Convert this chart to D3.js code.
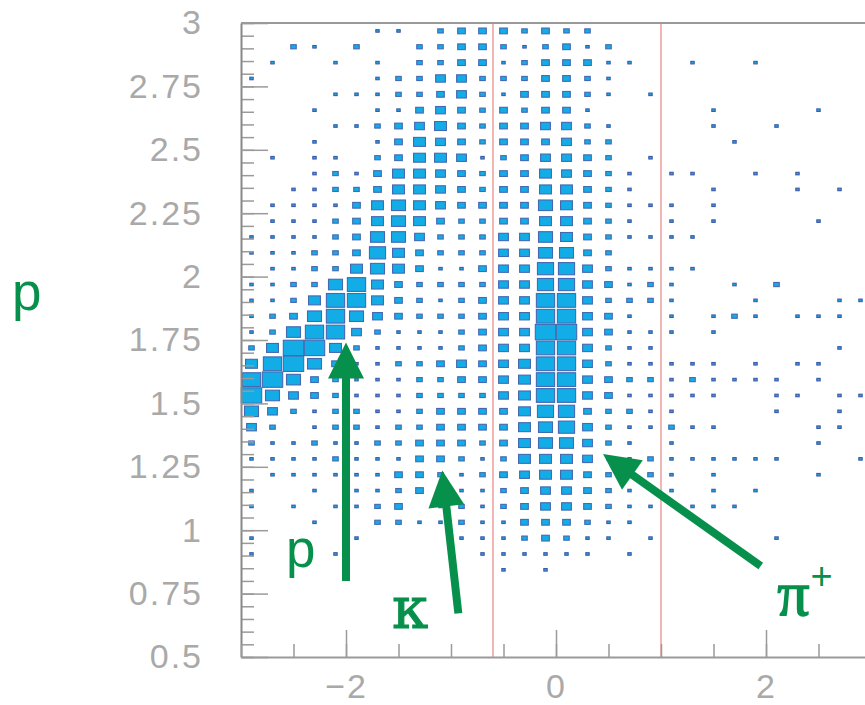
<!DOCTYPE html>
<html>
<head>
<meta charset="utf-8">
<script src="https://cdn.jsdelivr.net/npm/d3@7"></script>
<style>
  html, body { margin: 0; padding: 0; background: #ffffff; }
  svg { display: block; }
</style>
</head>
<body>
<svg id="chart" width="865" height="705"></svg>
<script>
// ---------------- DATA ----------------
// x bin centres (bin width 0.2)
const xBins = [-2.9, -2.7, -2.5, -2.3, -2.1, -1.9, -1.7, -1.5, -1.3, -1.1,
               -0.9, -0.7, -0.5, -0.3, -0.1, 0.1, 0.3, 0.5, 0.7, 0.9,
               1.1, 1.3, 1.5, 1.7, 1.9, 2.1, 2.3, 2.5, 2.7, 2.9];
// y bin centres (bin width 0.0625), top to bottom
const yBins = [2.96875, 2.90625, 2.84375, 2.78125, 2.71875, 2.65625, 2.59375, 2.53125,
               2.46875, 2.40625, 2.34375, 2.28125, 2.21875, 2.15625, 2.09375, 2.03125,
               1.96875, 1.90625, 1.84375, 1.78125, 1.71875, 1.65625, 1.59375, 1.53125,
               1.46875, 1.40625, 1.34375, 1.28125, 1.21875, 1.15625, 1.09375, 1.03125,
               0.96875, 0.90625, 0.84375, 0.78125, 0.71875, 0.65625, 0.59375, 0.53125];
// cell contents (relative, 0..9), one string per y bin, one digit per x bin
const cellRows = [
  "0000001102 3332322000 0000000000",
  "0021020022 3321231200 0000000000",
  "0100101022 3312333110 0100100000",
  "1000001224 4222332100 0000000000",
  "0000111223 4213332101 0000000000",
  "0001001134 3232331000 0010000100",
  "0000112345 3233442100 0010010000",
  "0001001354 3233342200 0001000000",
  "0101102355 4123443201 0000000000",
  "0001213554 3233543210 1100101000",
  "0011223554 3233553210 0010001010",
  "0111135654 3333653211 1010000000",
  "0111235653 2233553210 1010000100",
  "1111236642 2244653211 1100000000",
  "1112237532 2244663200 0000000000",
  "0112256531 1344774211 1100000000",
  "1122685322 2244774312 1001020000",
  "1125885321 2344884222 1000100011",
  "1236864322 2344884310 1012101110",
  "1268842111 2344994311 1010000000",
  "2599521111 2344884211 0000000010",
  "5896311223 4345884211 1110101100",
  "8963211122 3345884322 1211110100",
  "9643211122 2245884311 1110011011",
  "6421221123 3335773221 1000010010",
  "4201221223 3335674211 2110000110",
  "2112112233 3235664210 1000000100",
  "1111211133 2125554112 1111110001",
  "0111111332 1234553202 1010000100",
  "1001011232 1123443210 1010100000",
  "1010112301 2123443211 0111000000",
  "0001002211 2113332110 0000000000",
  "1000010000 1112321101 0000010000",
  "1000100000 0111111010 0000000000",
  "0000000000 0010100000 0000000000",
  "0000000000 0000000000 0000000000",
  "0000000000 0000000000 0000000000",
  "0000000000 0000000000 0000000000",
  "0000000000 0000000000 0000000000",
  "0000000000 0000000000 0000000000"
];
// vertical cut lines (x values)
const cutLines = [-0.6, 1.0];
// axis ticks
const yTickLabels = ["0.5", "0.75", "1", "1.25", "1.5", "1.75", "2", "2.25", "2.5", "2.75", "3"];
const yMajorTicks = [0.5, 0.75, 1, 1.25, 1.5, 1.75, 2, 2.25, 2.5, 2.75, 3];
const xMajorTicks = [-2, 0, 2];
const xTickLabels = ["\u22122", "0", "2"];
// annotations: arrows [x, y] in data coordinates
const arrowNames = ["p", "kappa", "pi"];
const arrowTail = [[-2.0, 0.80], [-0.93, 0.672], [1.95, 0.859]];
const arrowTip  = [[-2.0, 1.74], [-1.083, 1.235], [0.448, 1.30]];
// annotation labels [x, y] in data coordinates (baseline)
const labelText = ["p", "\u03BA", "\u03C0"];
const labelPos = [[-2.43, 0.855], [-1.39, 0.614], [2.125, 0.666]];

// ---------------- LAYOUT ----------------
const svg = d3.select("#chart");
const x = d3.scaleLinear().domain([-3, 3]).range([241, 871]);
const y = d3.scaleLinear().domain([0.5, 3]).range([657, 23]);
const green = "#07904c";
const axisGray = "#9a9a9a";
const labelGray = "#a9a9a9";

const cells = [];
cellRows.forEach((row, ri) => {
  const s = row.replace(/\s/g, "");
  for (let ci = 0; ci < xBins.length; ci++) {
    const v = +s[ci];
    if (v > 0) cells.push({ xv: xBins[ci], yv: yBins[ri], v });
  }
});

const binW = x(xBins[1]) - x(xBins[0]);
const binH = Math.abs(y(yBins[1]) - y(yBins[0]));
const boxScale = d3.scaleLinear().domain([0, 9]).range([0.06, 0.97]);

// red cut lines (behind boxes)
svg.append("g").selectAll("line").data(cutLines).join("line")
  .attr("x1", d => x(d)).attr("x2", d => x(d))
  .attr("y1", y(3)).attr("y2", y(0.5))
  .attr("stroke", "#f2a3a3").attr("stroke-width", 1.6);

// boxes
svg.append("g").selectAll("rect").data(cells).join("rect")
  .attr("x", d => x(d.xv) - binW * boxScale(d.v) / 2)
  .attr("y", d => y(d.yv) - binH * boxScale(d.v) / 2)
  .attr("width", d => binW * boxScale(d.v))
  .attr("height", d => binH * boxScale(d.v))
  .attr("fill", "#12ade6")
  .attr("stroke", d => d.v <= 1 ? "#4058a8" : "#4568b2")
  .attr("stroke-width", 1.1);

// ---------------- AXES ----------------
const fontFam = "'Liberation Sans', Arial, sans-serif";
const kappaFam = "'DejaVu Serif', 'Liberation Serif', serif";
const piFam = "'Liberation Serif', 'DejaVu Serif', serif";

// top border
svg.append("line")
  .attr("x1", x(-3)).attr("x2", x(3))
  .attr("y1", y(3)).attr("y2", y(3))
  .attr("stroke", axisGray).attr("stroke-width", 2);

// Y axis: minor ticks
const yMinor = d3.range(0.5, 3.0001, 0.05);
svg.append("g").attr("transform", `translate(${x(-3)},0)`)
  .call(d3.axisLeft(y).tickValues(yMinor).tickSizeInner(-13).tickSizeOuter(0).tickFormat(""))
  .call(g => g.select(".domain").remove())
  .call(g => g.selectAll("line").attr("stroke", axisGray).attr("stroke-width", 1.5));

// Y axis: major ticks + labels
svg.append("g").attr("transform", `translate(${x(-3)},0)`)
  .call(d3.axisLeft(y).tickValues(yMajorTicks).tickSizeInner(-27).tickSizeOuter(0)
        .tickPadding(38).tickFormat((d, i) => yTickLabels[i]))
  .call(g => g.select(".domain").attr("stroke", "#888").attr("stroke-width", 2))
  .call(g => g.selectAll("line").attr("stroke", axisGray).attr("stroke-width", 1.5))
  .call(g => g.selectAll("text").attr("fill", labelGray)
        .style("font-family", fontFam).style("font-size", "34px")
        .style("letter-spacing", "2px"));

// X axis: minor ticks
const xMinor = d3.range(-3, 3.0001, 0.5);
svg.append("g").attr("transform", `translate(0,${y(0.5)})`)
  .call(d3.axisBottom(x).tickValues(xMinor).tickSizeInner(-13).tickSizeOuter(0).tickFormat(""))
  .call(g => g.select(".domain").remove())
  .call(g => g.selectAll("line").attr("stroke", axisGray).attr("stroke-width", 1.5));

// X axis: major ticks + labels
svg.append("g").attr("transform", `translate(0,${y(0.5)})`)
  .call(d3.axisBottom(x).tickValues(xMajorTicks).tickSizeInner(-27).tickSizeOuter(0)
        .tickPadding(17).tickFormat((d, i) => xTickLabels[i]))
  .call(g => g.select(".domain").attr("stroke", axisGray).attr("stroke-width", 2))
  .call(g => g.selectAll("line").attr("stroke", axisGray).attr("stroke-width", 1.5))
  .call(g => g.selectAll("text").attr("fill", labelGray)
        .style("font-family", fontFam).style("font-size", "34px")
        .style("letter-spacing", "2px"));

// Y axis title
svg.append("text")
  .attr("x", 12).attr("y", 310)
  .attr("fill", green)
  .style("font-family", fontFam).style("font-size", "53px")
  .text("p");

// ---------------- ANNOTATIONS ----------------
const headLen = 36, headHalf = 18, shaftW = 8;
const ann = svg.append("g");
arrowNames.forEach((name, i) => {
  const tx = x(arrowTail[i][0]), ty = y(arrowTail[i][1]);
  const px = x(arrowTip[i][0]), py = y(arrowTip[i][1]);
  const dx = px - tx, dy = py - ty, L = Math.hypot(dx, dy);
  const ux = dx / L, uy = dy / L, nx = -uy, ny = ux;
  const bx = px - ux * headLen, by = py - uy * headLen;
  ann.append("line")
    .attr("x1", tx).attr("y1", ty).attr("x2", bx + ux * 2).attr("y2", by + uy * 2)
    .attr("stroke", green).attr("stroke-width", shaftW);
  ann.append("path")
    .attr("d", `M${px},${py} L${bx + nx * headHalf},${by + ny * headHalf} L${bx - nx * headHalf},${by - ny * headHalf} Z`)
    .attr("fill", green);
});

// labels
ann.append("text")
  .attr("x", x(labelPos[0][0])).attr("y", y(labelPos[0][1]))
  .attr("text-anchor", "middle").attr("fill", green)
  .style("font-family", fontFam).style("font-size", "53px")
  .text(labelText[0]);
ann.append("text")
  .attr("x", x(labelPos[1][0])).attr("y", y(labelPos[1][1]))
  .attr("text-anchor", "middle").attr("fill", green)
  .attr("stroke", green).attr("stroke-width", 1)
  .style("font-family", kappaFam).style("font-size", "58px")
  .text(labelText[1]);
const piText = ann.append("text")
  .attr("x", x(labelPos[2][0]) - 2).attr("y", y(labelPos[2][1]))
  .attr("fill", green);
piText.append("tspan")
  .attr("stroke", green).attr("stroke-width", 1.4)
  .style("font-family", piFam).style("font-size", "64px")
  .text(labelText[2]);
piText.append("tspan")
  .attr("dy", -26).attr("dx", 1)
  .style("font-family", fontFam).style("font-size", "38px")
  .text("+");
</script>
</body>
</html>
